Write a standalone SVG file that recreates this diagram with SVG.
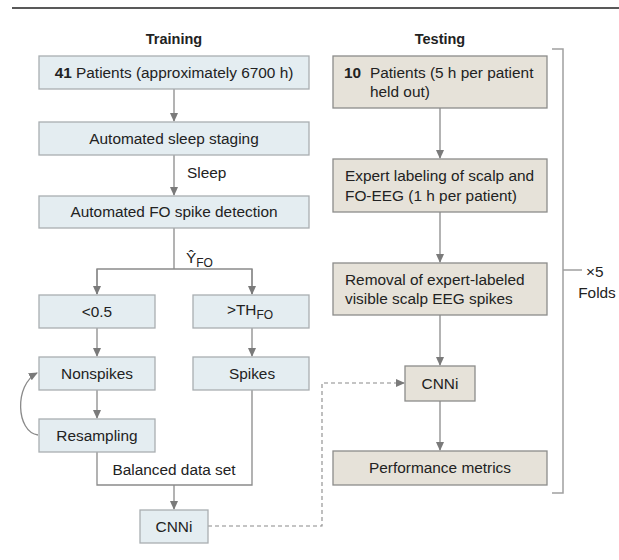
<svg xmlns="http://www.w3.org/2000/svg" width="619" height="560" viewBox="0 0 619 560">
<style>
text{font-family:"Liberation Sans",Arial,sans-serif;font-size:15.4px;fill:#222}
.h{font-weight:bold;text-anchor:middle;font-size:14.5px}
.c{text-anchor:middle}
.tr{fill:#e4edf1;stroke:#a9aeb1;stroke-width:1.3}
.te{fill:#e6e2d9;stroke:#8c8c8a;stroke-width:1.3}
.ln{fill:none;stroke:#8a8a8a;stroke-width:1.3}
.dash{fill:none;stroke:#8a8a8a;stroke-width:1.1;stroke-dasharray:4 3}
.br{fill:none;stroke:#a0a0a0;stroke-width:1.5}
</style>
<defs>
<marker id="ah" markerWidth="10" markerHeight="10" refX="8" refY="5" orient="auto" markerUnits="userSpaceOnUse">
<path d="M0,1 L9,5 L0,9 Z" fill="#7a7a7a"/>
</marker>
</defs>
<line x1="12" y1="8" x2="619" y2="8" stroke="#222" stroke-width="1.5"/>
<text class="h" x="174" y="44">Training</text>
<text class="h" x="440" y="44">Testing</text>

<g id="connectors">
<line class="ln" x1="174" y1="89" x2="174" y2="121" marker-end="url(#ah)"/>
<line class="ln" x1="174" y1="155" x2="174" y2="195" marker-end="url(#ah)"/>
<text x="187" y="178">Sleep</text>
<line class="ln" x1="174" y1="228" x2="174" y2="269"/>
<text x="186" y="263">Ŷ<tspan dy="4" font-size="12">FO</tspan></text>
<path class="ln" d="M97,294 V269 H252 V294"/>
<line class="ln" x1="97" y1="269" x2="97" y2="294" marker-end="url(#ah)"/>
<line class="ln" x1="252" y1="269" x2="252" y2="294" marker-end="url(#ah)"/>
<line class="ln" x1="97" y1="328" x2="97" y2="356" marker-end="url(#ah)"/>
<line class="ln" x1="252" y1="328" x2="252" y2="356" marker-end="url(#ah)"/>
<line class="ln" x1="97" y1="390" x2="97" y2="418" marker-end="url(#ah)"/>
<path class="ln" d="M38,435 C16,432 14,385 37,373" marker-end="url(#ah)"/>
<path class="ln" d="M97,452 V485 H252 V390"/>
<text class="c" x="174" y="475">Balanced data set</text>
<line class="ln" x1="174" y1="485" x2="174" y2="509" marker-end="url(#ah)"/>
<path class="dash" d="M208,526 H322 V383 H404" marker-end="url(#ah)"/>
<line class="ln" x1="440" y1="108" x2="440" y2="158" marker-end="url(#ah)"/>
<line class="ln" x1="440" y1="212" x2="440" y2="262" marker-end="url(#ah)"/>
<line class="ln" x1="440" y1="315" x2="440" y2="365" marker-end="url(#ah)"/>
<line class="ln" x1="440" y1="401" x2="440" y2="450" marker-end="url(#ah)"/>
<path class="br" d="M552,49 H563 V493 H552 M563,270 H582"/>
<text x="586" y="277">×5</text>
<text class="c" x="597" y="298">Folds</text>
</g>

<g id="n1"><rect class="tr" x="39" y="56" width="270" height="33"/><text class="c" x="174" y="78"><tspan font-weight="bold">41</tspan>  Patients (approximately 6700 h)</text></g>
<g id="n2"><rect class="tr" x="39" y="122" width="270" height="33"/><text class="c" x="174" y="144">Automated sleep staging</text></g>
<g id="n3"><rect class="tr" x="39" y="196" width="270" height="32"/><text class="c" x="174" y="217">Automated FO spike detection</text></g>
<g id="n4"><rect class="tr" x="39" y="295" width="116" height="33"/><text class="c" x="97" y="317">&lt;0.5</text></g>
<g id="n5"><rect class="tr" x="193" y="295" width="116" height="33"/><text class="c" x="250" y="315">&gt;TH<tspan dy="4" font-size="12">FO</tspan></text></g>
<g id="n6"><rect class="tr" x="39" y="357" width="116" height="33"/><text class="c" x="97" y="379">Nonspikes</text></g>
<g id="n7"><rect class="tr" x="193" y="357" width="116" height="33"/><text class="c" x="252" y="379">Spikes</text></g>
<g id="n8"><rect class="tr" x="39" y="419" width="116" height="33"/><text class="c" x="97" y="441">Resampling</text></g>
<g id="n9"><rect class="tr" x="140" y="510" width="68" height="33"/><text class="c" x="174" y="532">CNNi</text></g>

<g id="t1"><rect class="te" x="333" y="56" width="214" height="52"/><text x="344" y="78"><tspan font-weight="bold">10</tspan></text><text x="370" y="78">Patients (5 h per patient</text><text x="370" y="97">held out)</text></g>
<g id="t2"><rect class="te" x="333" y="159" width="214" height="53"/><text x="345" y="181">Expert labeling of scalp and</text><text x="345" y="201">FO-EEG (1 h per patient)</text></g>
<g id="t3"><rect class="te" x="333" y="263" width="214" height="52"/><text x="345" y="285">Removal of expert-labeled</text><text x="345" y="304">visible scalp EEG spikes</text></g>
<g id="t4"><rect class="te" x="405" y="366" width="70" height="35"/><text class="c" x="440" y="389">CNNi</text></g>
<g id="t5"><rect class="te" x="333" y="451" width="214" height="34"/><text class="c" x="440" y="473">Performance metrics</text></g>
</svg>
